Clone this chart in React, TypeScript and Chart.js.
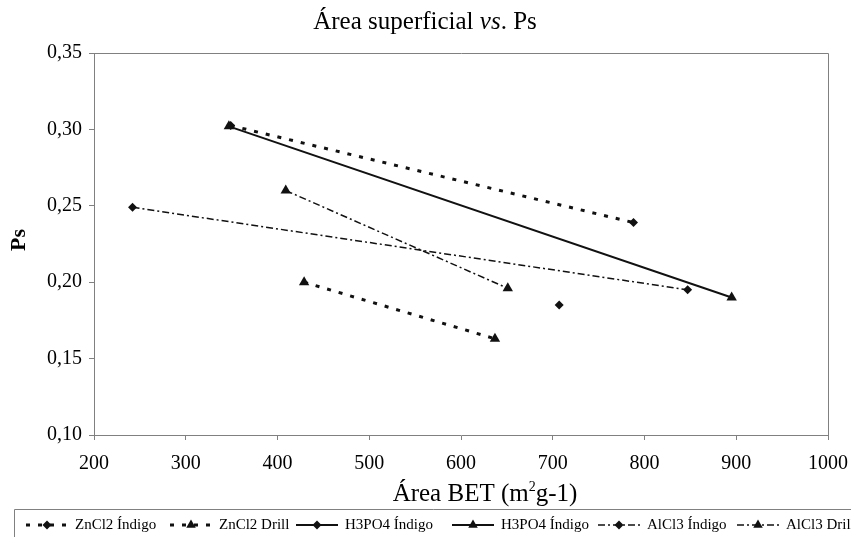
import { useEffect, useRef } from "react";
import { Chart, registerables } from "chart.js";

Chart.register(...registerables);

// ---- Data ----
const seriesNames = [
  "ZnCl2 Índigo",
  "ZnCl2 Drill",
  "H3PO4 Índigo",
  "H3PO4 Índigo",
  "AlCl3 Índigo",
  "AlCl3 Drill",
];
const zncl2IndigoX = [349, 788];
const zncl2IndigoY = [0.3025, 0.239];
const zncl2DrillX = [429, 637];
const zncl2DrillY = [0.2, 0.163];
const h3po4IndigoDiamondX = [707];
const h3po4IndigoDiamondY = [0.185];
const h3po4IndigoTriangleX = [347, 895];
const h3po4IndigoTriangleY = [0.302, 0.19];
const alcl3IndigoX = [242, 847];
const alcl3IndigoY = [0.249, 0.195];
const alcl3DrillX = [409, 651];
const alcl3DrillY = [0.26, 0.196];

const xMin = 200;
const xMax = 1000;
const xStep = 100;
const yMin = 0.1;
const yMax = 0.35;
const yStep = 0.05;

const titleParts = ["Área superficial ", "vs", ". Ps"];
const xTitleParts = ["Área BET (m", "2", "g-1)"];
const yTitle = "Ps";

// ---- Styles ----
const SERIF = "'Liberation Serif', 'Times New Roman', serif";
const AXIS_GRAY = "#808080";
const INK = "#111111";

const DASH_ZN = [4, 8];
const DASH_AL = [7, 3, 2, 3];

const styles = [
  { dash: DASH_ZN, width: 3, point: "rectRot", radius: 4.5 },
  { dash: DASH_ZN, width: 3, point: "triangle", radius: 6 },
  { dash: [] as number[], width: 2, point: "rectRot", radius: 4.5 },
  { dash: [] as number[], width: 2, point: "triangle", radius: 6 },
  { dash: DASH_AL, width: 1.5, point: "rectRot", radius: 4.5 },
  { dash: DASH_AL, width: 1.5, point: "triangle", radius: 6 },
];
const drawOrder = [1, 1, 1, 0, 1, 1];

// legend layout
const LEGEND_ITEM_X = [26, 170, 296, 452, 598, 737];
const LEGEND_SAMPLE_W = 42;
const LEGEND_TEXT_GAP = 7;
const LEGEND_Y = 525;

const pairs = (xs: number[], ys: number[]) => xs.map((x, i) => ({ x, y: ys[i] }));

const seriesData = [
  pairs(zncl2IndigoX, zncl2IndigoY),
  pairs(zncl2DrillX, zncl2DrillY),
  pairs(h3po4IndigoDiamondX, h3po4IndigoDiamondY),
  pairs(h3po4IndigoTriangleX, h3po4IndigoTriangleY),
  pairs(alcl3IndigoX, alcl3IndigoY),
  pairs(alcl3DrillX, alcl3DrillY),
];

function drawMarker(ctx: CanvasRenderingContext2D, kind: string, x: number, y: number, r: number) {
  ctx.beginPath();
  if (kind === "triangle") {
    let rad = 0;
    ctx.moveTo(x + Math.sin(rad) * r, y - Math.cos(rad) * r);
    rad += (2 * Math.PI) / 3;
    ctx.lineTo(x + Math.sin(rad) * r, y - Math.cos(rad) * r);
    rad += (2 * Math.PI) / 3;
    ctx.lineTo(x + Math.sin(rad) * r, y - Math.cos(rad) * r);
  } else {
    ctx.moveTo(x, y - r);
    ctx.lineTo(x + r, y);
    ctx.lineTo(x, y + r);
    ctx.lineTo(x - r, y);
  }
  ctx.closePath();
  ctx.fill();
}

const decorPlugin = {
  id: "decor",
  beforeDatasetsDraw(chart: any) {
    const { ctx, chartArea } = chart;
    const a = (v: number) => Math.round(v - 0.5) + 0.5;
    ctx.save();
    ctx.strokeStyle = AXIS_GRAY;
    ctx.lineWidth = 1;
    ctx.beginPath();
    ctx.moveTo(a(chartArea.left), a(chartArea.top));
    ctx.lineTo(a(chartArea.right), a(chartArea.top));
    ctx.lineTo(a(chartArea.right), a(chartArea.bottom));
    ctx.stroke();
    ctx.restore();
  },
  afterDraw(chart: any) {
    const { ctx, chartArea } = chart;
    ctx.save();
    ctx.fillStyle = "#000";
    ctx.textBaseline = "alphabetic";

    // Title with italic "vs"
    const tFonts = [`25px ${SERIF}`, `italic 25px ${SERIF}`, `25px ${SERIF}`];
    let total = 0;
    const widths: number[] = [];
    titleParts.forEach((p, i) => {
      ctx.font = tFonts[i];
      const w = ctx.measureText(p).width;
      widths.push(w);
      total += w;
    });
    let tx = 425 - total / 2;
    titleParts.forEach((p, i) => {
      ctx.font = tFonts[i];
      ctx.textAlign = "left";
      ctx.fillText(p, tx, 29);
      tx += widths[i];
    });

    // X axis title with superscript
    const xFonts = [`25px ${SERIF}`, `14px ${SERIF}`, `25px ${SERIF}`];
    const xOff = [0, -10, 0];
    let xt = 0;
    const xw: number[] = [];
    xTitleParts.forEach((p, i) => {
      ctx.font = xFonts[i];
      const w = ctx.measureText(p).width;
      xw.push(w);
      xt += w;
    });
    let xx = 485 - xt / 2;
    xTitleParts.forEach((p, i) => {
      ctx.font = xFonts[i];
      ctx.fillText(p, xx, 501 + xOff[i]);
      xx += xw[i];
    });

    // Y axis title
    ctx.save();
    ctx.translate(19, (chartArea.top + chartArea.bottom) / 2 - 4);
    ctx.rotate(-Math.PI / 2);
    ctx.font = `bold 22px ${SERIF}`;
    ctx.textAlign = "center";
    ctx.textBaseline = "middle";
    ctx.fillText(yTitle, 0, 0);
    ctx.restore();

    // Legend box
    ctx.strokeStyle = AXIS_GRAY;
    ctx.lineWidth = 1;
    ctx.beginPath();
    ctx.moveTo(14.5, 560);
    ctx.lineTo(14.5, 509.5);
    ctx.lineTo(860, 509.5);
    ctx.stroke();

    // Legend items
    seriesNames.forEach((name, i) => {
      const s = styles[i];
      const x0 = LEGEND_ITEM_X[i];
      const w = LEGEND_SAMPLE_W;
      ctx.save();
      ctx.strokeStyle = INK;
      ctx.fillStyle = INK;
      ctx.lineWidth = s.width;
      ctx.setLineDash(s.dash);
      ctx.beginPath();
      ctx.moveTo(x0, LEGEND_Y);
      ctx.lineTo(x0 + w, LEGEND_Y);
      ctx.stroke();
      ctx.setLineDash([]);
      drawMarker(ctx, s.point, x0 + w / 2, LEGEND_Y, s.point === "triangle" ? 5.5 : 4.5);
      ctx.restore();
      ctx.font = `15px ${SERIF}`;
      ctx.fillStyle = "#000";
      ctx.textAlign = "left";
      ctx.textBaseline = "middle";
      ctx.fillText(name, x0 + w + LEGEND_TEXT_GAP, LEGEND_Y);
    });
    ctx.restore();
  },
};

export default function App() {
  const canvasRef = useRef<HTMLCanvasElement | null>(null);

  useEffect(() => {
    if (!canvasRef.current) return;
    const chart = new Chart(canvasRef.current, {
      type: "scatter",
      data: {
        datasets: seriesNames.map((name, i) => ({
          label: name,
          data: seriesData[i],
          showLine: true,
          borderColor: INK,
          backgroundColor: INK,
          borderWidth: styles[i].width,
          borderDash: styles[i].dash,
          pointStyle: styles[i].point as any,
          pointRadius: styles[i].radius,
          pointBorderWidth: 0,
          pointBackgroundColor: INK,
          pointBorderColor: INK,
          order: drawOrder[i],
        })),
      },
      options: {
        responsive: false,
        animation: false,
        devicePixelRatio: 1,
        layout: { padding: { top: 53, right: 23, left: 0, bottom: 0 } },
        plugins: {
          legend: { display: false },
          title: { display: false },
          tooltip: { enabled: false },
        },
        scales: {
          x: {
            type: "linear",
            min: xMin,
            max: xMax,
            ticks: {
              stepSize: xStep,
              color: "#000",
              font: { family: SERIF, size: 20 },
              padding: 12,
              maxRotation: 0,
              autoSkip: false,
              callback: (v: any) => String(Math.round(Number(v))),
            },
            grid: {
              display: true,
              drawOnChartArea: false,
              drawTicks: true,
              tickLength: 5,
              color: AXIS_GRAY,
            },
            border: { display: true, color: AXIS_GRAY, width: 1 },
            afterFit(scale: any) {
              scale.height = 102;
              scale.paddingLeft = 0;
              scale.paddingRight = 0;
            },
          },
          y: {
            type: "linear",
            min: yMin,
            max: yMax,
            ticks: {
              stepSize: yStep,
              color: "#000",
              font: { family: SERIF, size: 20 },
              padding: 7,
              callback: (v: any) => Number(v).toFixed(2).replace(".", ","),
            },
            grid: {
              display: true,
              drawOnChartArea: false,
              drawTicks: true,
              tickLength: 5,
              color: AXIS_GRAY,
            },
            border: { display: true, color: AXIS_GRAY, width: 1 },
            afterFit(scale: any) {
              scale.width = 94;
              scale.paddingTop = 0;
              scale.paddingBottom = 0;
            },
          },
        },
      },
      plugins: [decorPlugin],
    });
    return () => chart.destroy();
  }, []);

  return (
    <div style={{ position: "absolute", left: 0, top: 0, width: 851, height: 537, background: "#fff", overflow: "hidden" }}>
      <canvas ref={canvasRef} width={851} height={537} style={{ display: "block", width: 851, height: 537 }} />
    </div>
  );
}
